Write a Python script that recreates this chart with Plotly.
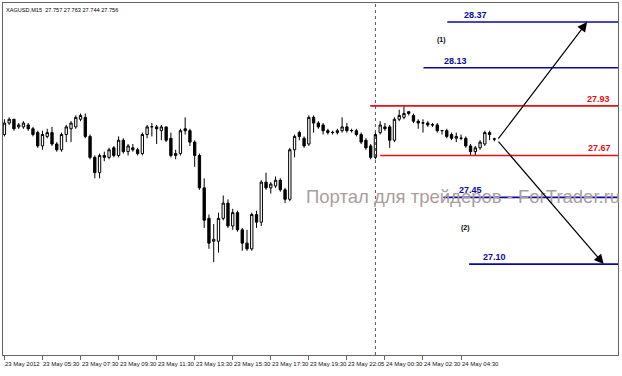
import plotly.graph_objects as go

# ---------------- data ----------------
opens = [27.78, 27.84, 27.86, 27.82, 27.82, 27.83, 27.81, 27.79, 27.72, 27.77,
         27.79, 27.73, 27.70, 27.78, 27.81, 27.82, 27.86, 27.87, 27.77, 27.66,
         27.58, 27.67, 27.66, 27.71, 27.67, 27.75, 27.69, 27.71, 27.70, 27.68,
         27.78, 27.82, 27.82, 27.80, 27.82, 27.76, 27.67, 27.68, 27.81, 27.80,
         27.74, 27.67, 27.50, 27.34, 27.22, 27.22, 27.34, 27.42, 27.30, 27.37,
         27.28, 27.21, 27.18, 27.36, 27.32, 27.53, 27.50, 27.51, 27.54, 27.49,
         27.44, 27.70, 27.79, 27.76, 27.73, 27.87, 27.84, 27.83, 27.80, 27.79,
         27.79, 27.80, 27.82, 27.80, 27.80, 27.78, 27.75, 27.72, 27.66, 27.79,
         27.82, 27.82, 27.75, 27.86, 27.87, 27.89, 27.88, 27.85, 27.84, 27.84,
         27.83, 27.83, 27.80, 27.80, 27.78, 27.76, 27.76, 27.76, 27.72, 27.69,
         27.71, 27.73, 27.79, 27.757]
highs = [27.86, 27.87, 27.86, 27.84, 27.85, 27.84, 27.82, 27.80, 27.80, 27.81,
         27.82, 27.74, 27.79, 27.83, 27.85, 27.88, 27.89, 27.89, 27.78, 27.67,
         27.68, 27.69, 27.71, 27.72, 27.77, 27.76, 27.73, 27.73, 27.71, 27.79,
         27.83, 27.84, 27.83, 27.83, 27.82, 27.79, 27.70, 27.81, 27.87, 27.81,
         27.75, 27.68, 27.55, 27.36, 27.31, 27.37, 27.46, 27.44, 27.39, 27.38,
         27.29, 27.28, 27.37, 27.38, 27.54, 27.58, 27.53, 27.56, 27.55, 27.50,
         27.71, 27.78, 27.80, 27.77, 27.88, 27.88, 27.85, 27.84, 27.81, 27.80,
         27.81, 27.87, 27.84, 27.81, 27.81, 27.79, 27.76, 27.73, 27.80, 27.85,
         27.84, 27.83, 27.87, 27.91, 27.93, 27.90, 27.89, 27.86, 27.86, 27.85,
         27.84, 27.84, 27.80, 27.81, 27.79, 27.79, 27.78, 27.77, 27.73, 27.72,
         27.75, 27.80, 27.80, 27.763]
lows = [27.77, 27.83, 27.80, 27.81, 27.81, 27.80, 27.77, 27.71, 27.70, 27.76,
        27.72, 27.69, 27.69, 27.74, 27.74, 27.81, 27.85, 27.76, 27.65, 27.55,
        27.55, 27.64, 27.65, 27.66, 27.66, 27.68, 27.67, 27.69, 27.67, 27.67,
        27.76, 27.77, 27.73, 27.75, 27.74, 27.66, 27.65, 27.67, 27.78, 27.72,
        27.61, 27.49, 27.29, 27.18, 27.11, 27.16, 27.33, 27.29, 27.28, 27.27,
        27.17, 27.17, 27.17, 27.29, 27.30, 27.49, 27.47, 27.50, 27.48, 27.42,
        27.43, 27.66, 27.75, 27.71, 27.72, 27.79, 27.81, 27.78, 27.78, 27.78,
        27.78, 27.79, 27.79, 27.79, 27.77, 27.73, 27.70, 27.65, 27.65, 27.78,
        27.80, 27.71, 27.74, 27.85, 27.86, 27.88, 27.84, 27.81, 27.79, 27.82,
        27.82, 27.79, 27.78, 27.76, 27.75, 27.74, 27.75, 27.71, 27.67, 27.67,
        27.70, 27.72, 27.75, 27.744]
closes = [27.84, 27.86, 27.81, 27.83, 27.84, 27.81, 27.78, 27.72, 27.78, 27.79,
          27.73, 27.70, 27.78, 27.82, 27.84, 27.87, 27.88, 27.77, 27.66, 27.58,
          27.67, 27.66, 27.70, 27.67, 27.75, 27.69, 27.72, 27.70, 27.68, 27.78,
          27.82, 27.821, 27.81, 27.82, 27.75, 27.67, 27.68, 27.80, 27.80, 27.74,
          27.67, 27.50, 27.33, 27.21, 27.23, 27.34, 27.42, 27.30, 27.37, 27.28,
          27.21, 27.18, 27.36, 27.32, 27.53, 27.50, 27.52, 27.54, 27.49, 27.44,
          27.70, 27.77, 27.77, 27.72, 27.87, 27.84, 27.82, 27.80, 27.79, 27.791,
          27.80, 27.82, 27.80, 27.801, 27.78, 27.74, 27.71, 27.66, 27.78, 27.83,
          27.81, 27.75, 27.86, 27.88, 27.89, 27.90, 27.85, 27.84, 27.841, 27.83,
          27.831, 27.80, 27.801, 27.77, 27.76, 27.77, 27.761, 27.72, 27.69, 27.71,
          27.74, 27.79, 27.78, 27.756]

tick_labels = ["23 May 2012", "23 May 05:30", "23 May 07:30", "23 May 09:30",
               "23 May 11:30", "23 May 13:30", "23 May 15:30", "23 May 17:30",
               "23 May 19:30", "23 May 22:05", "24 May 00:30", "24 May 02:30",
               "24 May 04:30"]
tick_bars = [0, 8, 16, 24, 32, 40, 48, 56, 64, 72, 80, 88, 96]

level_values = [28.37, 28.13, 27.93, 27.67, 27.45, 27.10]
level_colors = ["#0a0aa0", "#0a0aa0", "#e81010", "#e81010", "#0a0aa0", "#0a0aa0"]
level_starts = [93.1, 88.1, 76.9, 79.0, 92.3, 97.7]
level_label_x = [99.0, 94.8, 124.8, 125.2, 98.0, 103.0]

title_text = "XAGUSD,M15  27.757 27.763 27.744 27.756"
watermark = "Портал для трейдеров - ForTrader.ru"

x = list(range(len(opens)))
X_MAX = 129.0
Y_MIN, Y_MAX = 26.623, 28.47

fig = go.Figure()
fig.add_trace(go.Candlestick(
    x=x, open=opens, high=highs, low=lows, close=closes,
    increasing=dict(line=dict(color="black", width=1), fillcolor="white"),
    decreasing=dict(line=dict(color="black", width=1), fillcolor="black"),
    whiskerwidth=0, showlegend=False, hoverinfo="skip"))

shapes = []
# day separator
shapes.append(dict(type="line", xref="x", yref="paper", x0=78, x1=78, y0=0, y1=1,
                   line=dict(color="#555555", width=1, dash="dot")))
for v, c, s in zip(level_values, level_colors, level_starts):
    shapes.append(dict(type="line", xref="x", yref="y", x0=s, x1=X_MAX, y0=v, y1=v,
                       line=dict(color=c, width=1.6)))

annotations = []
# watermark (drawn first, behind other texts)
annotations.append(dict(x=0.489, y=27.455, xref="paper", yref="y", text=watermark,
                        showarrow=False, xanchor="left", yanchor="middle",
                        font=dict(family="Liberation Sans", size=18.5, color="#ab9d9d")))
for v, c, lx in zip(level_values, level_colors, level_label_x):
    annotations.append(dict(x=lx, y=v, xref="x", yref="y", text="<b>%.2f</b>" % v,
                            showarrow=False, yanchor="bottom", yshift=0,
                            font=dict(family="Liberation Sans", size=9, color=c)))
annotations.append(dict(x=91.9, y=28.276, xref="x", yref="y", text="<b>(1)</b>",
                        showarrow=False, font=dict(family="Liberation Sans", size=7, color="black")))
annotations.append(dict(x=96.9, y=27.29, xref="x", yref="y", text="<b>(2)</b>",
                        showarrow=False, font=dict(family="Liberation Sans", size=7, color="black")))
# scenario arrows
annotations.append(dict(x=122.5, y=28.37, ax=103.6, ay=27.75, xref="x", yref="y",
                        axref="x", ayref="y", showarrow=True, arrowhead=2,
                        arrowsize=1.6, arrowwidth=1.2, arrowcolor="black", text=""))
annotations.append(dict(x=126.0, y=27.10, ax=103.6, ay=27.75, xref="x", yref="y",
                        axref="x", ayref="y", showarrow=True, arrowhead=2,
                        arrowsize=1.6, arrowwidth=1.2, arrowcolor="black", text=""))
# title
annotations.append(dict(x=0.0, y=1.0, xref="paper", yref="paper", text=title_text,
                        showarrow=False, xanchor="left", yanchor="top", xshift=1, yshift=-2,
                        font=dict(family="Liberation Sans", size=5.6, color="black")))
# time labels
for b, t in zip(tick_bars, tick_labels):
    annotations.append(dict(x=b, y=0, xref="x", yref="paper", text=t, showarrow=False,
                            xanchor="left", yanchor="top", xshift=-1, yshift=-4,
                            font=dict(family="Liberation Sans", size=6, color="#111111")))

fig.update_layout(
    width=622, height=376,
    margin=dict(l=3, r=4, t=3, b=21),
    paper_bgcolor="white", plot_bgcolor="white",
    shapes=shapes, annotations=annotations,
    xaxis=dict(range=[-0.3, X_MAX], showgrid=False, zeroline=False,
               showline=True, linecolor="#666666", linewidth=1, mirror=True,
               tickvals=tick_bars, ticktext=[""] * len(tick_bars),
               ticks="outside", ticklen=4, tickcolor="#666666",
               rangeslider=dict(visible=False), fixedrange=True),
    yaxis=dict(range=[Y_MIN, Y_MAX], showgrid=False, zeroline=False,
               showline=True, linecolor="#666666", linewidth=1, mirror=True,
               showticklabels=False, ticks="", fixedrange=True),
)

fig.write_html("out.html", config={"displayModeBar": False},
               post_script="document.body.style.margin='0px';")
